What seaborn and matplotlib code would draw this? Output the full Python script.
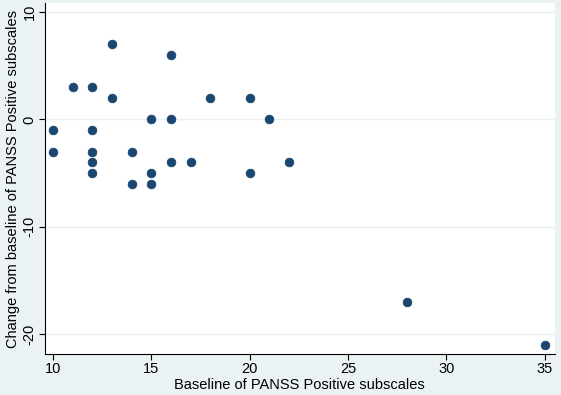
import matplotlib
matplotlib.use("Agg")
import matplotlib.pyplot as plt
import seaborn as sns
import pandas as pd

baseline = [10, 10, 11, 12, 12, 12, 12, 12, 13, 13, 14, 14, 15, 15, 15,
            16, 16, 16, 17, 18, 20, 20, 21, 22, 28, 35]
change = [-1, -3, 3, 3, -1, -3, -4, -5, 7, 2, -3, -6, 0, -5, -6,
          6, 0, -4, -4, 2, 2, -5, 0, -4, -17, -21]
x_ticks = [10, 15, 20, 25, 30, 35]
y_ticks = [-20, -10, 0, 10]
x_label = "Baseline of PANSS Positive subscales"
y_label = "Change from baseline of PANSS Positive subscales"

df = pd.DataFrame({"baseline": baseline, "change": change})

sns.set_theme(style="white")
plt.rcParams["font.family"] = ["Liberation Sans", "DejaVu Sans"]

bg = "#eaf2f3"
fig = plt.figure(figsize=(5.61, 3.95), dpi=100, facecolor=bg)
ax = fig.add_axes([0.080, 0.104, 0.909, 0.888])
ax.set_facecolor("white")

for yv in y_ticks:
    ax.axhline(yv, color="#eaf2f3", lw=1.0, zorder=0)

sns.scatterplot(data=df, x="baseline", y="change", ax=ax, color="#1a476f",
                s=40, edgecolor="#1a476f", linewidth=0.5, zorder=3)

ax.set_xlim(9.59, 35.51)
ax.set_ylim(-21.86, 10.84)
ax.set_xticks(x_ticks)
ax.set_yticks(y_ticks)
ax.set_xticklabels([str(v) for v in x_ticks], fontsize=10.5, color="black")
ax.set_yticklabels([str(v) for v in y_ticks], fontsize=10.5, color="black",
                   rotation=90, va="center")
ax.tick_params(axis="both", direction="out", length=4, width=0.8,
               color="black", bottom=True, left=True, pad=2)
ax.set_xlabel(x_label, fontsize=10.5, color="black", labelpad=1)
ax.set_ylabel(y_label, fontsize=10.5, color="black", labelpad=2)

for side in ["top", "right"]:
    ax.spines[side].set_visible(False)
for side in ["left", "bottom"]:
    ax.spines[side].set_color("black")
    ax.spines[side].set_linewidth(0.8)

fig.savefig("out.png", dpi=100, facecolor=bg)
